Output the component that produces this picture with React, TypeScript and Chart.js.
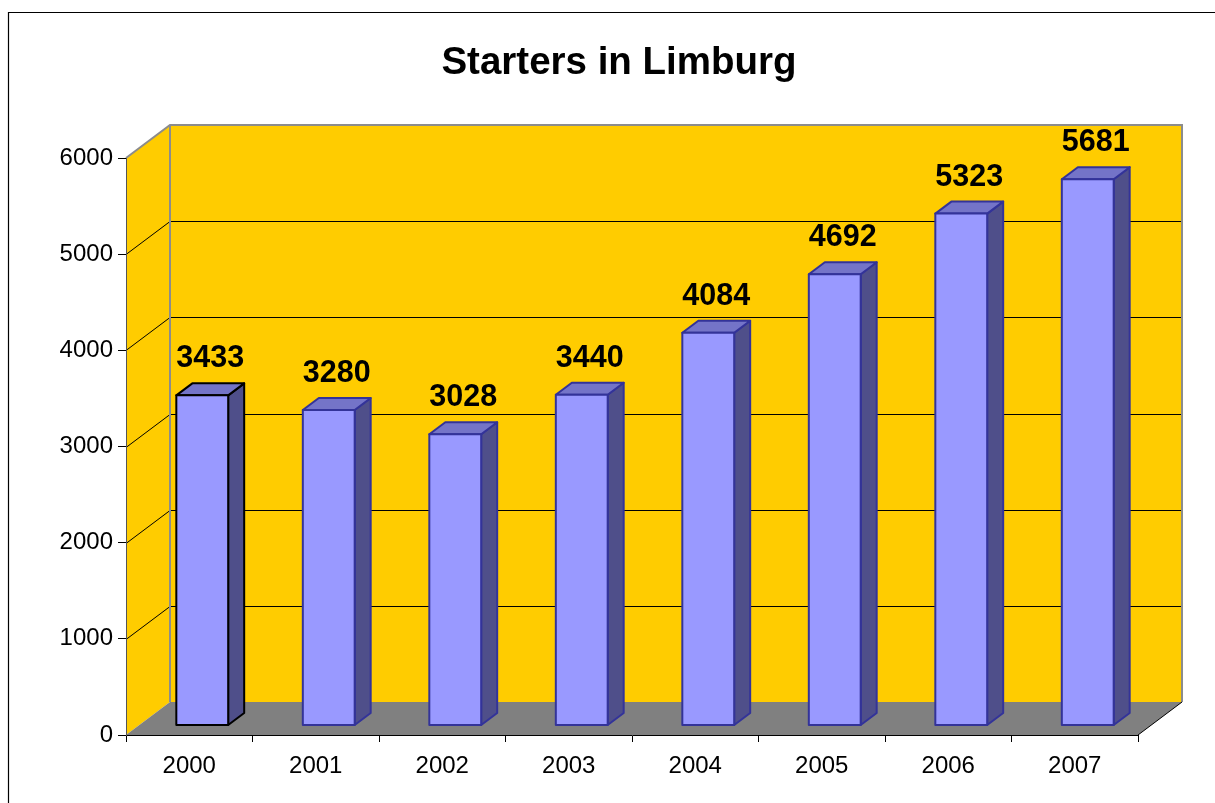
import { useEffect, useRef } from "react";
import { Chart, registerables } from "chart.js";

Chart.register(...registerables);

const chartTitle = "Starters in Limburg";
const years = ["2000", "2001", "2002", "2003", "2004", "2005", "2006", "2007"];
const starters = [3433, 3280, 3028, 3440, 4084, 4692, 5323, 5681];
const yMin = 0;
const yMax = 6000;
const yStep = 1000;

const FONT = "'Liberation Sans', Arial, Helvetica, sans-serif";
const WALL = { dx: 44, dy: -33 };
const BAR_FRONT = { dx: 13, dy: -9.5 };
const BAR_DEPTH = { dx: 16, dy: -12 };
const COLORS = {
  wall: "#FFCC00",
  floor: "#808080",
  wallEdge: "#8C8C8C",
  barFront: "#9999FF",
  barTop: "#7474C8",
  barSide: "#4F4F8A",
  barEdge: "#333399",
};

const scenePlugin = {
  id: "scene3d",
  beforeDraw(chart: any) {
    const ctx = chart.ctx;
    const a = chart.chartArea;
    const ys = chart.scales.y;
    const W = chart.width;
    const H = chart.height;
    ctx.save();
    ctx.fillStyle = "#fff";
    ctx.fillRect(0, 0, W, H);

    // outer frame (top and left edges visible)
    ctx.strokeStyle = "#000";
    ctx.lineWidth = 1.2;
    ctx.beginPath();
    ctx.moveTo(8.5, H);
    ctx.lineTo(8.5, 12.5);
    ctx.lineTo(W, 12.5);
    ctx.stroke();

    // title
    ctx.fillStyle = "#000";
    ctx.font = `bold 38.5px ${FONT}`;
    ctx.textAlign = "center";
    ctx.textBaseline = "alphabetic";
    ctx.fillText(chartTitle, 619, 74);

    const L = a.left, R = a.right, T = a.top, B = a.bottom;
    const dx = WALL.dx, dy = WALL.dy;

    // left wall
    ctx.fillStyle = COLORS.wall;
    ctx.beginPath();
    ctx.moveTo(L, T);
    ctx.lineTo(L + dx, T + dy);
    ctx.lineTo(L + dx, B + dy);
    ctx.lineTo(L, B);
    ctx.closePath();
    ctx.fill();
    // back wall
    ctx.fillRect(L + dx, T + dy, R - L, B - T);
    // floor
    ctx.fillStyle = COLORS.floor;
    ctx.beginPath();
    ctx.moveTo(L, B);
    ctx.lineTo(R, B);
    ctx.lineTo(R + dx, B + dy);
    ctx.lineTo(L + dx, B + dy);
    ctx.closePath();
    ctx.fill();

    // gridlines
    ctx.strokeStyle = "#000";
    ctx.lineWidth = 1;
    for (let v = yMin + yStep; v < yMax; v += yStep) {
      const py = Math.round(ys.getPixelForValue(v)) + 0.5;
      ctx.beginPath();
      ctx.moveTo(L, py);
      ctx.lineTo(L + dx, py + dy);
      ctx.lineTo(R + dx, py + dy);
      ctx.stroke();
    }

    // wall edges
    ctx.strokeStyle = COLORS.wallEdge;
    ctx.lineWidth = 2;
    ctx.beginPath();
    ctx.moveTo(L, T);
    ctx.lineTo(L + dx, T + dy);
    ctx.lineTo(R + dx, T + dy);
    ctx.lineTo(R + dx, B + dy);
    ctx.moveTo(L + dx, T + dy);
    ctx.lineTo(L + dx, B + dy);
    ctx.stroke();

    // floor right edge
    ctx.strokeStyle = "#000";
    ctx.lineWidth = 1;
    ctx.beginPath();
    ctx.moveTo(R, B);
    ctx.lineTo(R + dx, B + dy);
    ctx.stroke();
    ctx.restore();
  },
  afterDatasetsDraw(chart: any) {
    const ctx = chart.ctx;
    const meta = chart.getDatasetMeta(0);
    const data = chart.data.datasets[0].data;
    ctx.save();
    ctx.lineJoin = "round";
    meta.data.forEach((el: any, i: number) => {
      const p = el.getProps(["x", "y", "base", "width"], true);
      const left = p.x - p.width / 2 + BAR_FRONT.dx;
      const right = p.x + p.width / 2 + BAR_FRONT.dx;
      const top = p.y + BAR_FRONT.dy;
      const bottom = p.base + BAR_FRONT.dy;
      const bx = BAR_DEPTH.dx, by = BAR_DEPTH.dy;
      const edge = i === 0 ? "#000" : COLORS.barEdge;
      ctx.lineWidth = 2;
      ctx.strokeStyle = edge;
      // side
      ctx.fillStyle = COLORS.barSide;
      ctx.beginPath();
      ctx.moveTo(right, top);
      ctx.lineTo(right + bx, top + by);
      ctx.lineTo(right + bx, bottom + by);
      ctx.lineTo(right, bottom);
      ctx.closePath();
      ctx.fill();
      ctx.stroke();
      // top
      ctx.fillStyle = COLORS.barTop;
      ctx.beginPath();
      ctx.moveTo(left, top);
      ctx.lineTo(left + bx, top + by);
      ctx.lineTo(right + bx, top + by);
      ctx.lineTo(right, top);
      ctx.closePath();
      ctx.fill();
      ctx.stroke();
      // front
      ctx.fillStyle = COLORS.barFront;
      ctx.beginPath();
      ctx.rect(left, top, right - left, bottom - top);
      ctx.fill();
      ctx.stroke();

      // value label
      ctx.fillStyle = "#000";
      ctx.font = `bold 30.5px ${FONT}`;
      ctx.textAlign = "center";
      ctx.textBaseline = "alphabetic";
      ctx.fillText(String(data[i]), (left + right) / 2 + bx / 2, top + by - 16);
    });
    ctx.restore();
  },
};

export default function App() {
  const ref = useRef<HTMLCanvasElement | null>(null);
  useEffect(() => {
    if (!ref.current) return;
    const chart = new Chart(ref.current, {
      type: "bar",
      data: {
        labels: years,
        datasets: [
          {
            label: "Starters",
            data: starters,
            backgroundColor: "rgba(0,0,0,0)",
            borderWidth: 0,
            barPercentage: 0.41,
            categoryPercentage: 1,
          },
        ],
      },
      options: {
        responsive: false,
        maintainAspectRatio: false,
        devicePixelRatio: 1,
        animation: false,
        layout: { padding: { top: 158, right: 77, left: 0, bottom: 0 } },
        plugins: {
          legend: { display: false },
          tooltip: { enabled: false },
          title: { display: false },
        },
        scales: {
          x: {
            type: "category",
            offset: true,
            grid: {
              offset: true,
              drawOnChartArea: false,
              drawTicks: true,
              tickLength: 7,
              color: "#000",
              lineWidth: 1,
            },
            border: { color: "#000", width: 1 },
            ticks: {
              color: "#000",
              font: { family: FONT, size: 24 },
              padding: 10,
              maxRotation: 0,
              autoSkip: false,
            },
            afterFit: (s: any) => {
              s.height = 68;
            },
          },
          y: {
            min: yMin,
            max: yMax,
            grid: {
              drawOnChartArea: false,
              drawTicks: true,
              tickLength: 8,
              color: "#000",
              lineWidth: 1,
            },
            border: { color: "#555", width: 1 },
            ticks: {
              stepSize: yStep,
              color: "#000",
              font: { family: FONT, size: 24 },
              padding: 5,
              callback: (v: any) => String(v),
            },
            afterFit: (s: any) => {
              s.width = 126;
            },
          },
        },
      },
      plugins: [scenePlugin],
    });
    return () => chart.destroy();
  }, []);
  return (
    <div style={{ position: "fixed", left: 0, top: 0, width: 1215, height: 803, background: "#fff" }}>
      <canvas ref={ref} width={1215} height={803} style={{ display: "block", width: 1215, height: 803 }} />
    </div>
  );
}
